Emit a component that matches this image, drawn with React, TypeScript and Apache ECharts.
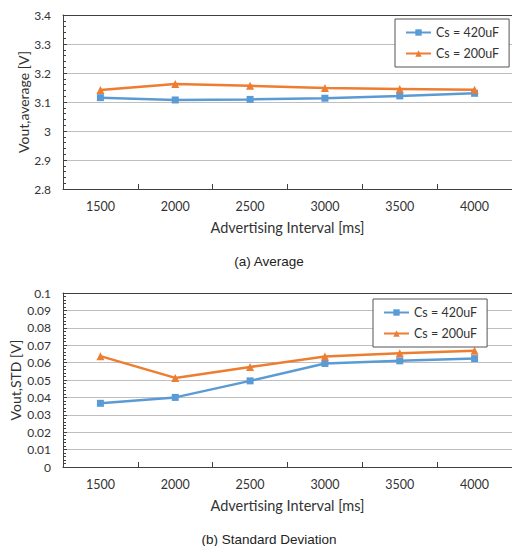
import React, { useEffect, useRef } from "react";
import * as echarts from "echarts";

const categories = ["1500", "2000", "2500", "3000", "3500", "4000"];
const avg420 = [3.115, 3.107, 3.109, 3.113, 3.121, 3.13];
const avg200 = [3.141, 3.162, 3.156, 3.148, 3.145, 3.142];
const std420 = [0.0366, 0.04, 0.0495, 0.0595, 0.061, 0.0623];
const std200 = [0.0637, 0.0512, 0.0575, 0.0635, 0.0654, 0.0668];
const seriesNames = ["Cs = 420uF", "Cs = 200uF"];
const captions = ["(a) Average", "(b) Standard Deviation"];
const xName = "Advertising Interval [ms]";
const yNames = ["Vout,average [V]", "Vout,STD [V]"];

const BLUE = "#5B9BD5";
const ORANGE = "#ED7D31";
const FONT = "Lato";

export default function App() {
  const ref = useRef<HTMLDivElement>(null);
  useEffect(() => {
    if (!ref.current) return;
    const chart = echarts.init(ref.current, null, { renderer: "svg" });
    const xAxisBase = (gridIndex: number) => ({
      type: "category",
      gridIndex,
      data: categories,
      boundaryGap: true,
      axisLine: { lineStyle: { color: "#404040", width: 1 } },
      axisTick: { show: true, inside: true, length: 5, alignWithLabel: false, lineStyle: { color: "#404040" } },
      axisLabel: { color: "#333", fontFamily: FONT, fontSize: 12.5, margin: 11 },
      name: xName,
      nameLocation: "middle",
      nameGap: 31,
      nameMoveOverlap: false,
      nameTextStyle: { color: "#333", fontFamily: FONT, fontSize: 14.5 },
      splitLine: { show: false },
    });
    const topAxis = (gridIndex: number) => ({
      type: "value",
      gridIndex,
      position: "top",
      min: 0,
      max: 1,
      axisLine: { show: true, onZero: false, lineStyle: { color: "#404040", width: 1 } },
      axisTick: { show: false },
      axisLabel: { show: false },
      splitLine: { show: false },
    });
    const yAxisBase = (gridIndex: number, min: number, max: number, interval: number, name: string, nameGap: number) => ({
      type: "value",
      gridIndex,
      min,
      max,
      interval,
      name,
      nameLocation: "middle",
      nameGap,
      nameMoveOverlap: false,
      nameTextStyle: { color: "#333", fontFamily: FONT, fontSize: 14 },
      axisLine: { show: true, lineStyle: { color: "#404040", width: 1 } },
      axisTick: { show: true, inside: true, length: 4, lineStyle: { color: "#404040" } },
      minorTick: { show: true, splitNumber: 5, length: 3, lineStyle: { color: "#404040" } },
      axisLabel: { color: "#333", fontFamily: FONT, fontSize: 12, margin: 12 },
      splitLine: { show: true, lineStyle: { color: "#bfbfbf", width: 1 } },
    });
    const lineSeries = (name: string, data: number[], idx: number, color: string, symbol: string) => ({
      type: "line",
      name,
      data,
      xAxisIndex: idx,
      yAxisIndex: idx,
      symbol,
      symbolSize: symbol === "rect" ? 7 : 8,
      lineStyle: { color, width: 2.5 },
      itemStyle: { color },
    });
    const legendBase = (left: number, top: number) => ({
      orient: "vertical",
      left,
      top,
      data: seriesNames,
      itemWidth: 25,
      itemHeight: 8,
      itemGap: 8,
      padding: [7, 10, 7, 10],
      borderColor: "#555",
      borderWidth: 1,
      backgroundColor: "#fff",
      textStyle: { color: "#333", fontFamily: FONT, fontSize: 12.5 },
    });
    chart.setOption({
      animation: false,
      backgroundColor: "#fff",
      grid: [
        { left: 63, top: 15, width: 451, height: 174 },
        { left: 62, top: 293, width: 452, height: 174 },
      ],
      xAxis: [xAxisBase(0), xAxisBase(1), topAxis(0), topAxis(1)],
      yAxis: [
        yAxisBase(0, 2.8, 3.4, 0.1, yNames[0], 33),
        yAxisBase(1, 0, 0.1, 0.01, yNames[1], 41),
      ],
      legend: [legendBase(395, 19), legendBase(373, 299)],
      title: [
        {
          text: captions[0],
          left: 264,
          top: 249,
          textAlign: "center",
          textStyle: { fontFamily: "Liberation Sans", fontSize: 13.5, fontWeight: "normal", color: "#222" },
        },
        {
          text: captions[1],
          left: 264,
          top: 527,
          textAlign: "center",
          textStyle: { fontFamily: "Liberation Sans", fontSize: 13.5, fontWeight: "normal", color: "#222" },
        },
      ],
      series: [
        lineSeries(seriesNames[0], avg420, 0, BLUE, "rect"),
        lineSeries(seriesNames[1], avg200, 0, ORANGE, "triangle"),
        lineSeries(seriesNames[0], std420, 1, BLUE, "rect"),
        lineSeries(seriesNames[1], std200, 1, ORANGE, "triangle"),
      ],
    });
    return () => chart.dispose();
  }, []);
  return (
    <div
      ref={ref}
      style={{ position: "fixed", left: 0, top: 0, width: 512, height: 546, background: "#fff" }}
    />
  );
}
